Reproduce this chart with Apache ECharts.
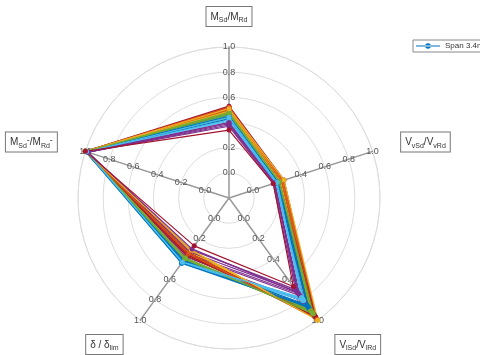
<!DOCTYPE html>
<html>
<head>
<meta charset="utf-8">
<script src="https://cdn.jsdelivr.net/npm/echarts@6/dist/echarts.min.js"></script>
<style>
  html, body { margin: 0; padding: 0; background: #fff; }
  #chart { width: 480px; height: 355px; }
</style>
</head>
<body>
<div id="chart"></div>
<script>
// axis names, counterclockwise from the top
const axisNames = [
  'M{s|Sd}/M{s|Rd}',
  'M{s|Sd}{p|-}/M{s|Rd}{p|-}',
  'δ / δ{s|lim}',
  'V{s|lSd}/V{s|lRd}',
  'V{s|vSd}/V{s|vRd}'
];
const spanNames = ['Span 3.4m'];

// one value per load case
const mSd = [0.45, 0.50, 0.49, 0.43, 0.47, 0.42, 0.48, 0.46, 0.52, 0.50, 0.40, 0.45, 0.41, 0.51,
  0.44, 0.49, 0.47, 0.38, 0.46, 0.43, 0.50, 0.47, 0.51, 0.48, 0.39, 0.44, 0.45, 0.52,
  0.43, 0.50, 0.49, 0.37, 0.48, 0.42, 0.53, 0.45, 0.52, 0.51, 0.40, 0.47, 0.44, 0.34];
const mSdNeg = [1.00, 0.99, 1.00, 0.98, 1.00, 0.99, 1.00, 1.00, 0.99, 1.00, 0.98, 1.00, 0.99, 1.00,
  0.99, 1.00, 1.00, 0.98, 1.00, 0.99, 1.00, 1.00, 0.99, 1.00, 0.98, 1.00, 0.99, 1.00,
  0.99, 1.00, 1.00, 0.98, 1.00, 0.99, 1.00, 1.00, 1.00, 1.00, 0.98, 1.00, 0.99, 1.00];
const delta = [0.42, 0.36, 0.33, 0.38, 0.40, 0.43, 0.37, 0.41, 0.35, 0.32, 0.36, 0.39, 0.42, 0.34,
  0.43, 0.36, 0.33, 0.35, 0.40, 0.44, 0.36, 0.42, 0.34, 0.32, 0.33, 0.39, 0.43, 0.35,
  0.41, 0.35, 0.31, 0.31, 0.40, 0.44, 0.34, 0.44, 0.34, 0.31, 0.30, 0.39, 0.43, 0.27];
const vlSd = [0.90, 0.95, 0.97, 0.82, 0.93, 0.80, 0.92, 0.89, 0.97, 0.98, 0.76, 0.91, 0.79, 0.94,
  0.86, 0.96, 0.97, 0.74, 0.92, 0.81, 0.95, 0.88, 0.98, 0.99, 0.72, 0.90, 0.78, 0.96,
  0.85, 0.97, 0.99, 0.70, 0.93, 0.79, 0.97, 0.87, 0.99, 1.00, 0.73, 0.94, 0.78, 0.67];
const vvSd = [0.21, 0.23, 0.24, 0.19, 0.22, 0.20, 0.22, 0.21, 0.25, 0.24, 0.18, 0.21, 0.19, 0.23,
  0.20, 0.24, 0.23, 0.18, 0.22, 0.20, 0.24, 0.22, 0.25, 0.24, 0.18, 0.21, 0.21, 0.25,
  0.20, 0.24, 0.25, 0.17, 0.22, 0.20, 0.26, 0.21, 0.25, 0.26, 0.18, 0.22, 0.20, 0.17];

const palette = ['#0072BD', '#D95319', '#EDB120', '#7E2F8E', '#77AC30', '#4DBEEE', '#A2142F'];
const font = 'Liberation Sans, Arial, sans-serif';

const chart = echarts.init(document.getElementById('chart'));

const radarData = mSd.map((v, i) => ({
  name: i === 0 ? spanNames[0] : 'case ' + i,
  value: [v, mSdNeg[i], delta[i], vlSd[i], vvSd[i]],
  itemStyle: { color: palette[i % palette.length] },
  lineStyle: { color: palette[i % palette.length], width: 1.2 }
}));

const nameStyle = {
  color: '#333',
  fontSize: 10,
  fontFamily: font,
  lineHeight: 14,
  borderColor: '#777',
  borderWidth: 1,
  backgroundColor: '#fff',
  padding: [3, 4, 2, 4],
  rich: {
    s: { fontSize: 7, lineHeight: 8, verticalAlign: 'bottom', fontFamily: font, color: '#333' },
    p: { fontSize: 9, lineHeight: 9, verticalAlign: 'top', fontFamily: font, color: '#333' }
  }
};

// main radar: grid, axes, tick labels and all names but the top one
const mainRadar = {
  center: [229, 198],
  radius: 151,
  startAngle: 90,
  shape: 'circle',
  splitNumber: 6,
  indicator: axisNames.map((n, i) => ({ name: i === 0 ? '' : n, min: -0.2, max: 1.0 })),
  nameGap: 30,
  axisName: nameStyle,
  axisLine: { lineStyle: { color: '#999', width: 1.5 } },
  splitLine: { lineStyle: { color: '#ddd', width: 1 } },
  splitArea: { show: false },
  axisTick: { show: false },
  axisLabel: {
    show: true,
    margin: 0,
    align: 'center',
    verticalAlign: 'middle',
    fontSize: 9,
    color: '#555',
    fontFamily: font,
    formatter: v => (v < -0.1 ? '' : (Math.round(v * 10) / 10).toFixed(1))
  }
};

// second radar only carries the top name, closer to the ring
const topNameRadar = {
  center: [229, 198],
  radius: 151,
  startAngle: 90,
  shape: 'circle',
  splitNumber: 6,
  indicator: axisNames.map((n, i) => ({ name: i === 0 ? n : '', min: -0.2, max: 1.0 })),
  nameGap: 21,
  axisName: nameStyle,
  axisLine: { show: false },
  splitLine: { show: false },
  splitArea: { show: false },
  axisTick: { show: false },
  axisLabel: { show: false }
};

const option = {
  animation: false,
  textStyle: { fontFamily: font },
  legend: {
    data: [{
      name: spanNames[0],
      icon: 'path://M0,4.4H30V5.6H0Z M18.5,5A3.5,3.5 0 1 0 11.5,5A3.5,3.5 0 1 0 18.5,5Z'
    }],
    left: 413,
    top: 40,
    padding: [2, 3],
    itemWidth: 24,
    itemHeight: 8,
    itemGap: 4,
    borderColor: '#888',
    borderWidth: 1,
    borderRadius: 0,
    backgroundColor: '#fff',
    textStyle: { fontSize: 8, color: '#333', fontFamily: font },
    selectedMode: false
  },
  radar: [mainRadar, topNameRadar],
  series: [{
    type: 'radar',
    radarIndex: 0,
    symbol: 'circle',
    symbolSize: 5,
    data: radarData
  }]
};

chart.setOption(option);
</script>
</body>
</html>
